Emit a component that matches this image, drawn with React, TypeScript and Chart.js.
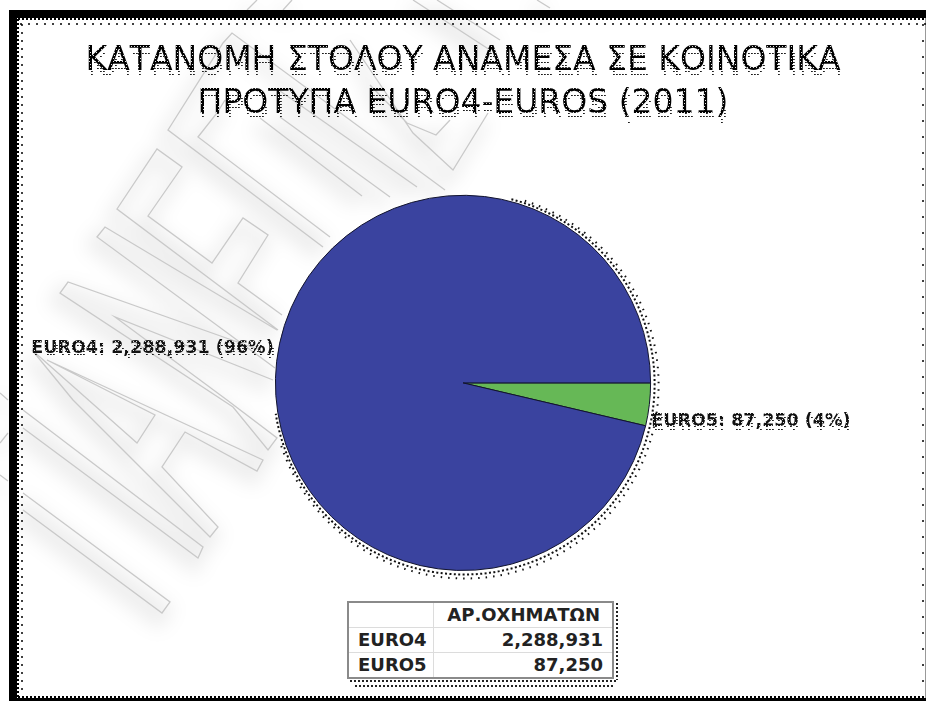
import React, { useEffect, useRef } from "react";
import { Chart, registerables } from "chart.js";

Chart.register(...registerables);

const categories = ["EURO5", "EURO4"];
const vehicles = [87250, 2288931];
const shares = ["4%", "96%"];
const sliceColors = ["#66b856", "#3a439f"];
const titleLines = ["ΚΑΤΑΝΟΜΗ ΣΤΟΛΟΥ ΑΝΑΜΕΣΑ ΣΕ ΚΟΙΝΟΤΙΚΑ", "ΠΡΟΤΥΠΑ EURO4-EUROS (2011)"];
const tableHeader = "ΑΡ.ΟΧΗΜΑΤΩΝ";
const tableRows = [
  { name: "EURO4", value: 2288931 },
  { name: "EURO5", value: 87250 },
];

// Decorative background watermark outlines (not chart data)
const watermark: number[][][] = [
  [[282, 315], [238, 283], [268, 235], [243, 218], [212, 263], [148, 216], [182, 167], [157, 149], [117, 209], [278, 330]],
  [[275, 368], [97, 237], [105, 227], [277, 330]],
  [[260, 350], [68, 282], [60, 293], [233, 407], [268, 450], [277, 438], [227, 400], [115, 317], [273, 380]],
  [[323, 247], [168, 130], [223, 43], [232, 33], [445, 190]],
  [[330, 237], [198, 137], [217, 113], [225, 100]],
  [[260, 118], [362, 196]],
  [[280, 117], [390, 197]],
  [[280, 91], [417, 187]],
  [[350, 40], [413, 133], [453, 170], [488, 113]],
  [[370, 85], [407, 123], [436, 135], [450, 120]],
  [[32, 350], [137, 443], [155, 415], [47, 360], [263, 460], [257, 471], [185, 432], [162, 467], [218, 527], [210, 537], [73, 400], [32, 350]],
  [[23, 410], [203, 547], [198, 558], [23, 428]],
  [[23, 493], [170, 602], [162, 613], [23, 510]],
  [[0, 393], [8, 400]],
  [[0, 443], [8, 433]],
  [[0, 475], [8, 481]],
  [[247, 10], [257, 0]],
  [[283, 10], [292, 0]],
  [[413, 0], [490, 50]],
  [[437, 0], [500, 40]],
  [[537, 0], [550, 8]],
];

const fmt = (n: number) => n.toLocaleString("en-US");

function halftone(ctx: CanvasRenderingContext2D, x: number, y: number, w: number, h: number, dy: number) {
  const img = ctx.getImageData(x, y, w, h);
  const d = img.data;
  const src = new Uint8Array(d);
  const dark = (i: number) => src[i] < 110 && src[i + 1] < 110 && src[i + 2] < 110;
  for (let py = 0; py < h; py++) {
    for (let px = 0; px < w; px++) {
      const i = (py * w + px) * 4;
      if (dark(i) && (px + (py % 4 < 2 ? 0 : 1)) % 3 === 2 && py % 3 === 2) {
        d[i] = 225; d[i + 1] = 225; d[i + 2] = 225;
      }
      if (px % 3 === 0 && py % 3 === 0 && py >= dy) {
        const j = ((py - dy) * w + Math.max(px - 1, 0)) * 4;
        if (dark(j) && src[i] > 190) {
          d[i] = 30; d[i + 1] = 30; d[i + 2] = 30;
          if (px + 1 < w) {
            d[i + 4] = 70; d[i + 5] = 70; d[i + 6] = 70;
          }
        }
      }
    }
  }
  ctx.putImageData(img, x, y);
}

const backdrop = {
  id: "backdrop",
  beforeDraw(chart: Chart) {
    const { ctx, width, height } = chart;
    ctx.save();
    ctx.fillStyle = "#fff";
    ctx.fillRect(0, 0, width, height);

    const trace = () => {
      ctx.beginPath();
      for (const line of watermark) {
        line.forEach(([x, y], i) => (i ? ctx.lineTo(x, y) : ctx.moveTo(x, y)));
      }
    };
    ctx.save();
    ctx.filter = "blur(9px)";
    ctx.translate(-4, 8);
    ctx.strokeStyle = "rgba(0,0,0,0.065)";
    ctx.lineWidth = 13;
    trace();
    ctx.stroke();
    ctx.restore();
    ctx.strokeStyle = "#c9c9c9";
    ctx.lineWidth = 1.3;
    trace();
    ctx.stroke();

    // frame
    ctx.fillStyle = "#000";
    ctx.fillRect(9, 10, width - 9, 8);
    ctx.fillRect(9, 10, 8, height - 10);
    ctx.fillRect(9, 698, width - 9, 3);
    ctx.fillStyle = "#999";
    ctx.fillRect(925, 18, 1, 680);
    ctx.strokeStyle = "#000";
    ctx.setLineDash([2, 2]);
    ctx.lineWidth = 2;
    ctx.beginPath();
    ctx.moveTo(18, 19);
    ctx.lineTo(width, 19);
    ctx.moveTo(18, 19);
    ctx.lineTo(18, 697);
    ctx.moveTo(18, 697);
    ctx.lineTo(width, 697);
    ctx.stroke();
    ctx.setLineDash([2, 6]);
    ctx.lineWidth = 1.5;
    ctx.beginPath();
    ctx.moveTo(20, 24);
    ctx.lineTo(width, 24);
    ctx.moveTo(22, 24);
    ctx.lineTo(22, 695);
    ctx.stroke();
    ctx.setLineDash([2, 14]);
    ctx.beginPath();
    ctx.moveTo(923, 24);
    ctx.lineTo(923, 695);
    ctx.stroke();

    // dotted drop-shade of the table
    ctx.setLineDash([2, 2]);
    ctx.lineWidth = 2;
    ctx.strokeStyle = "#222";
    ctx.beginPath();
    ctx.moveTo(617, 603);
    ctx.lineTo(617, 680);
    ctx.moveTo(350, 681);
    ctx.lineTo(617, 681);
    ctx.moveTo(355, 686);
    ctx.lineTo(615, 686);
    ctx.stroke();
    ctx.restore();
  },
};

const sliceNotes = {
  id: "sliceNotes",
  afterDatasetsDraw(chart: Chart) {
    const { ctx } = chart;
    const arcs = chart.getDatasetMeta(0).data as any[];
    const a0 = arcs[0];
    ctx.save();
    // dotted halo on the lower right side of the pie
    ctx.strokeStyle = "#111";
    ctx.lineWidth = 2;
    ctx.setLineDash([2, 2.4]);
    ctx.beginPath();
    ctx.arc(a0.x + 1, a0.y + 1, a0.outerRadius + 3, -Math.PI * 0.42, Math.PI * 0.95);
    ctx.stroke();
    ctx.setLineDash([1.5, 6]);
    ctx.beginPath();
    ctx.arc(a0.x + 2, a0.y + 2, a0.outerRadius + 6, -Math.PI * 0.4, Math.PI * 0.9);
    ctx.stroke();
    ctx.setLineDash([]);

    ctx.font = "bold 17.5px 'DejaVu Sans'";
    ctx.fillStyle = "#111";
    ctx.textBaseline = "middle";
    categories.forEach((name, i) => {
      const arc = arcs[i];
      const mid = (arc.startAngle + arc.endAngle) / 2;
      const right = Math.cos(mid) > 0;
      const px = arc.x + Math.cos(mid) * arc.outerRadius;
      const py = arc.y + Math.sin(mid) * arc.outerRadius;
      ctx.textAlign = right ? "left" : "right";
      ctx.fillText(`${name}: ${fmt(vehicles[i])} (${shares[i]})`, px + (right ? 2 : -3), py + (right ? 17 : -13));
    });
    ctx.restore();
  },
  afterDraw(chart: Chart) {
    const { ctx } = chart;
    halftone(ctx, 70, 35, 790, 95, 6);
    halftone(ctx, 26, 333, 248, 30, 4);
    halftone(ctx, 652, 405, 215, 30, 4);
  },
};

export default function App() {
  const ref = useRef<HTMLCanvasElement>(null);
  useEffect(() => {
    const chart = new Chart(ref.current as HTMLCanvasElement, {
      type: "pie",
      data: {
        labels: categories,
        datasets: [
          {
            data: vehicles,
            backgroundColor: sliceColors,
            borderColor: "#12142e",
            borderWidth: 1,
          },
        ],
      },
      options: {
        responsive: false,
        animation: false,
        rotation: 90,
        layout: { padding: { left: 0, right: 0, top: 40, bottom: 130 } },
        plugins: {
          legend: { display: false },
          tooltip: { enabled: false },
          title: {
            display: true,
            text: titleLines,
            color: "#000",
            font: { family: "'DejaVu Sans'", size: 33, weight: "normal", lineHeight: 1.3 },
            padding: { top: 0, bottom: 69 },
          },
        },
      },
      plugins: [backdrop, sliceNotes],
    } as any);
    return () => chart.destroy();
  }, []);

  const cell: React.CSSProperties = {
    border: "1px solid #dcdcdc",
    padding: "0 14px 0 9px",
    height: 25,
    boxSizing: "border-box",
    fontFamily: "'DejaVu Sans'",
    fontWeight: "bold",
    fontSize: 18,
    lineHeight: "20px",
    color: "#222",
    whiteSpace: "nowrap",
  };
  return (
    <div style={{ position: "fixed", left: 0, top: 0, width: 926, height: 701, overflow: "hidden", background: "#fff" }}>
      <canvas ref={ref} width={926} height={701} style={{ display: "block" }} />
      <table
        style={{
          position: "absolute",
          left: 347,
          top: 601,
          width: 267,
          height: 78,
          borderCollapse: "collapse",
          background: "#fff",
          border: "2px solid #8a8a8a",
          tableLayout: "fixed",
        }}
      >
        <colgroup>
          <col style={{ width: 85 }} />
          <col />
        </colgroup>
        <tbody>
          <tr>
            <td style={cell}></td>
            <td style={{ ...cell, textAlign: "right", padding: "0 12px 0 0" }}>{tableHeader}</td>
          </tr>
          {tableRows.map((r) => (
            <tr key={r.name}>
              <td style={cell}>{r.name}</td>
              <td style={{ ...cell, textAlign: "right", padding: "0 9px 0 0" }}>{fmt(r.value)}</td>
            </tr>
          ))}
        </tbody>
      </table>
    </div>
  );
}
